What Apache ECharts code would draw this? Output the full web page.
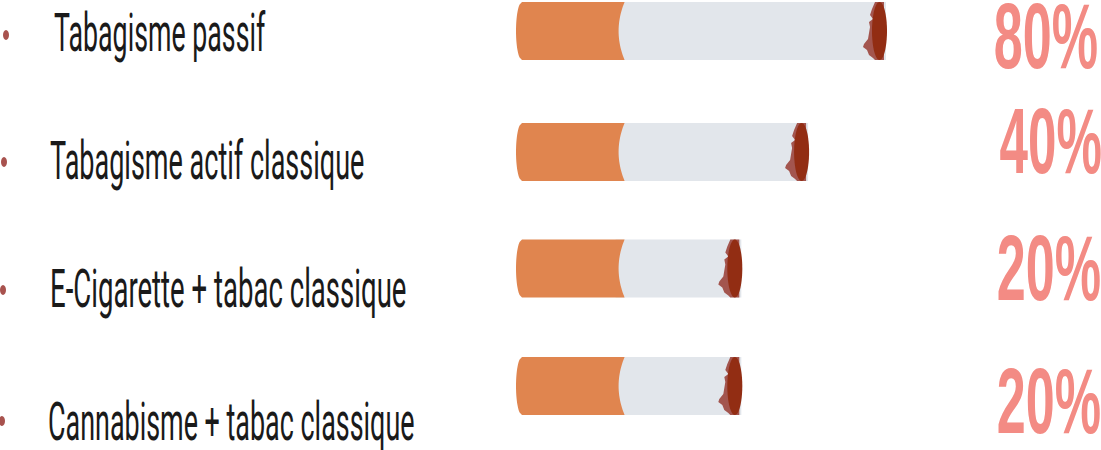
<!DOCTYPE html>
<html><head><meta charset="utf-8">
<style>html,body{margin:0;padding:0;background:#fff}#c{width:1101px;height:450px}</style>
<script src="https://cdn.jsdelivr.net/npm/echarts@6/dist/echarts.min.js"></script>
</head><body><div id="c"></div>
<script>
const categories = ['Tabagisme passif','Tabagisme actif classique','E-Cigarette + tabac classique','Cannabisme + tabac classique'];
const percentLabels = ['80%','40%','20%','20%'];
const cigaretteLengths = [100, 79, 61, 61];
const filterLengths = [29, 29, 29, 29];

const dyBar = [0, 2.7, 0.8, 0];
const labelPos = [[54,33],[50,161],[50,289],[48,422]];
const labelScale = [0.505,0.51,0.52,0.508];
const pctScale = [0.56,0.55,0.56,0.56];
const bulletPos = [[6,35],[4,162],[3,290],[2,421]];
const pctPos = [[1098,36],[1102,141],[1101,268],[1101,401]];
const FONT_SIZE = 53, PCT_SIZE = 93;

const chart = echarts.init(document.getElementById('c'), null, {renderer:'svg'});

function renderItem(params, api) {
  const i = params.dataIndex;
  const p0 = api.coord([0, i]);
  const left = p0[0], cy = p0[1] + dyBar[i];
  const end = api.coord([api.value(1), i])[0];
  const fEnd = api.coord([api.value(2), i])[0];
  const h = 29;
  const top = cy - h;
  const kids = [];
  // paper
  kids.push({type:'rect', shape:{x:fEnd-8, y:top, width:end-fEnd+7, height:2*h}, style:{fill:'#e2e6eb'}});
  // filter: convex left end, concave right end
  const pts = [];
  for (let k = 0; k <= 24; k++) {
    const u = -1 + k/12;
    pts.push([fEnd - 6*(1-u*u) + 1, cy + u*h]);
  }
  for (let k = 24; k >= 0; k--) {
    const u = -1 + k/12;
    pts.push([left + 6 - 6*Math.sqrt(1-u*u), cy + u*h]);
  }
  kids.push({type:'polygon', shape:{points:pts}, style:{fill:'#e0854f'}});
  // ash
  const e = end, t = cy;
  const ash = [[-12,-29],[-15,-22],[-17,-16],[-14,-12],[-18,-9],[-17,-4],[-19,8],[-23,13],[-24,16],[-20,19],[-18,24],[-14,27],[-12,29],[-3,29],[-3,-29]]
    .map(p => [e+p[0], t+p[1]]);
  kids.push({type:'polygon', shape:{points:ash}, style:{fill:'#a3554e'}});
  // ember
  kids.push({type:'ellipse', shape:{cx:end-7.5, cy, rx:7.5, ry:29}, style:{fill:'#922d13'}});
  // bullet
  kids.push({type:'ellipse', shape:{cx:bulletPos[i][0], cy:bulletPos[i][1], rx:3, ry:5}, style:{fill:'#a8524e'}});
  // label
  kids.push({type:'text', x:labelPos[i][0], y:labelPos[i][1], scaleX:labelScale[i],
    style:{text:categories[i], fill:'#1a1a1a', font:`${FONT_SIZE}px Roboto`, textAlign:'left', textVerticalAlign:'middle'}});
  // percent
  kids.push({type:'text', x:pctPos[i][0], y:pctPos[i][1], scaleX:pctScale[i],
    style:{text:percentLabels[i], fill:'#f38b84', font:`bold ${PCT_SIZE}px "Liberation Sans"`, textAlign:'right', textVerticalAlign:'middle'}});
  return {type:'group', children:kids};
}

chart.setOption({
  animation:false,
  grid:{left:516, width:371, top:31, height:355},
  xAxis:{type:'value', min:0, max:100, show:false},
  yAxis:{type:'category', data:categories, inverse:true, show:false, boundaryGap:false},
  series:[{
    type:'custom', clip:false, silent:true,
    renderItem,
    encode:{x:1, y:0},
    data: categories.map((c,i)=>[i, cigaretteLengths[i], filterLengths[i]])
  }]
});
</script></body></html>
